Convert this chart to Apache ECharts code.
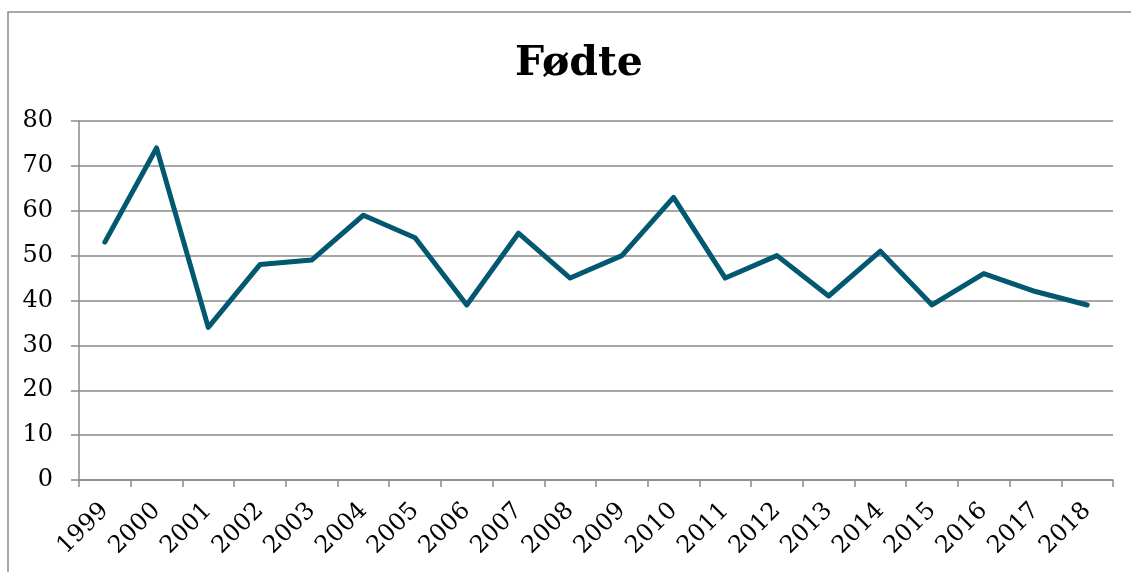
<!DOCTYPE html>
<html>
<head>
<meta charset="utf-8">
<script src="https://cdn.jsdelivr.net/npm/echarts@6/dist/echarts.min.js"></script>
<style>
html,body{margin:0;padding:0;background:#fff;}
#c{width:1131px;height:572px;}
</style>
</head>
<body>
<div id="c"></div>
<script>
const years = ['1999','2000','2001','2002','2003','2004','2005','2006','2007','2008','2009','2010','2011','2012','2013','2014','2015','2016','2017','2018'];
const births = [53,74,34,48,49,59,54,39,55,45,50,63,45,50,41,51,39,46,42,39];
const titleText = 'Fødte';

const chart = echarts.init(document.getElementById('c'));
const font = 'DejaVu Serif';
chart.setOption({
  animation: false,
  backgroundColor: '#fff',
  title: {
    text: titleText,
    left: 574,
    textAlign: 'center',
    top: 39,
    textStyle: {fontFamily: font, fontWeight: 'bold', fontSize: 41, color: '#000'}
  },
  graphic: [{
    type: 'rect',
    shape: {x: 8, y: 12, width: 1300, height: 700},
    style: {fill: 'none', stroke: '#8a8a8a', lineWidth: 1.5},
    silent: true
  }],
  grid: {left: 79, right: 18, top: 121, bottom: 92, containLabel: false},
  xAxis: {
    type: 'category',
    data: years,
    boundaryGap: true,
    axisLine: {lineStyle: {color: '#8a8a8a', width: 1.5}},
    axisTick: {show: true, length: 7, alignWithLabel: false, lineStyle: {color: '#8a8a8a', width: 1.5}},
    axisLabel: {rotate: 45, interval: 0, margin: 27, fontFamily: font, fontSize: 24, color: '#000'}
  },
  yAxis: {
    type: 'value',
    min: 0, max: 80, interval: 10,
    axisLine: {show: true, lineStyle: {color: '#8a8a8a', width: 1.5}},
    axisTick: {show: true, length: 8, lineStyle: {color: '#8a8a8a', width: 1.5}},
    splitLine: {lineStyle: {color: '#8a8a8a', width: 1.5}},
    axisLabel: {margin: 26, fontFamily: font, fontSize: 24, color: '#000'}
  },
  series: [{
    type: 'line',
    data: births,
    symbol: 'none',
    lineStyle: {color: '#02586f', width: 5, cap: 'round', join: 'round'},
    itemStyle: {color: '#02586f'}
  }]
});
</script>
</body>
</html>
